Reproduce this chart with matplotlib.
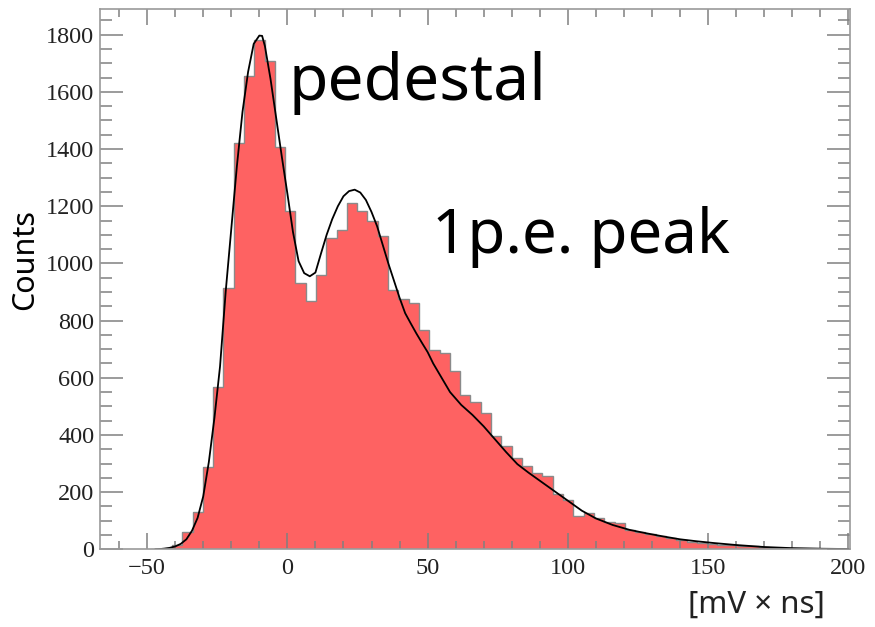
import matplotlib.pyplot as plt
import numpy as np
from matplotlib.ticker import MultipleLocator

# histogram
bin_lo = -48.5
bin_width = 3.67
counts = [
    1, 5, 15, 62, 132, 289, 569, 913, 1421, 1657,
    1783, 1707, 1407, 1185, 931, 867, 960, 1088, 1118, 1213,
    1182, 1147, 1097, 908, 875, 863, 767, 697, 686, 622,
    540, 517, 476, 395, 360, 320, 290, 268, 255, 195,
    173, 117, 128, 108, 97, 93, 67, 62, 54, 47,
    41, 33, 27, 23, 19, 16, 14, 12, 10, 8,
    6, 5, 4, 3, 3, 2, 2, 1, 1,
]

# fit curve
fit_x = [
    -47, -44, -42, -40, -38, -36, -34, -32, -30, -28,
    -26, -24, -22, -20, -18, -16, -14, -12, -10, -9,
    -8, -6, -4, -2, 0, 2, 4, 6, 8, 10,
    12, 14, 16, 18, 20, 22, 24, 26, 28, 30,
    32, 34, 36, 38, 40, 42, 44, 46, 48, 50,
    52, 55, 58, 62, 66, 70, 74, 78, 82, 86,
    90, 95, 100, 105, 110, 116, 122, 128, 134, 140,
    146, 152, 160, 170, 180, 190, 200,
]
fit_y = [
    0, 2, 5, 10, 19, 35, 65, 110, 185, 305,
    460, 640, 900, 1120, 1340, 1530, 1670, 1768, 1797, 1796,
    1760, 1645, 1510, 1375, 1245, 1110, 1008, 966, 955, 968,
    1035, 1100, 1155, 1200, 1235, 1253, 1258, 1248, 1222, 1180,
    1130, 1065, 1000, 940, 880, 826, 790, 755, 722, 690,
    650, 600, 550, 505, 470, 430, 385, 340, 298, 268,
    240, 205, 170, 135, 108, 85, 68, 56, 45, 35,
    28, 22, 15, 8, 4, 2, 1,
]

x_min, x_max = -66.8, 200.6
y_max = 1890

edges = bin_lo + bin_width * np.arange(len(counts) + 1)

fig = plt.figure(figsize=(8.75, 6.27), dpi=100)
ax = fig.add_axes([100 / 875, (627 - 549.3) / 627, 750 / 875, 540.3 / 627])

ax.stairs(counts, edges, fill=True, color="#fe6262", linewidth=0)
ax.stairs(counts, edges, color="#8a8a8a", linewidth=1.0)
ax.plot(fit_x, fit_y, color="black", linewidth=1.3)

ax.set_xlim(x_min, x_max)
ax.set_ylim(0, y_max)

ax.xaxis.set_major_locator(MultipleLocator(50))
ax.xaxis.set_minor_locator(MultipleLocator(10))
ax.yaxis.set_major_locator(MultipleLocator(200))
ax.yaxis.set_minor_locator(MultipleLocator(50))

for spine in ax.spines.values():
    spine.set_color("#9a9a9a")
    spine.set_linewidth(1.2)

ax.tick_params(
    axis="both", which="both", direction="in",
    top=True, right=True, color="#808080", width=1.1,
    labelcolor="#222222",
)
ax.tick_params(axis="x", which="major", length=11.5, pad=6, labelsize=17.5)
ax.tick_params(axis="x", which="minor", length=5.8)
ax.tick_params(axis="y", which="major", length=16.5, pad=4, labelsize=17.5)
ax.tick_params(axis="y", which="minor", length=8.6)
for label in ax.get_xticklabels() + ax.get_yticklabels():
    label.set_family("Liberation Serif")

fig.text(25 / 875, 1 - 260 / 627, "Counts", rotation=90,
         ha="center", va="center", fontsize=22, family="Noto Sans")
fig.text(756 / 875, 1 - 605 / 627, "[mV × ns]",
         ha="center", va="center", fontsize=22.5, family="Noto Sans",
         color="#222222")
fig.text(288 / 875, 1 - 100 / 627, "pedestal",
         ha="left", va="baseline", fontsize=46.2, family="Noto Sans")
fig.text(432 / 875, 1 - 253 / 627, "1p.e. peak",
         ha="left", va="baseline", fontsize=44.5, family="Noto Sans")

fig.savefig("out.png", dpi=100)
